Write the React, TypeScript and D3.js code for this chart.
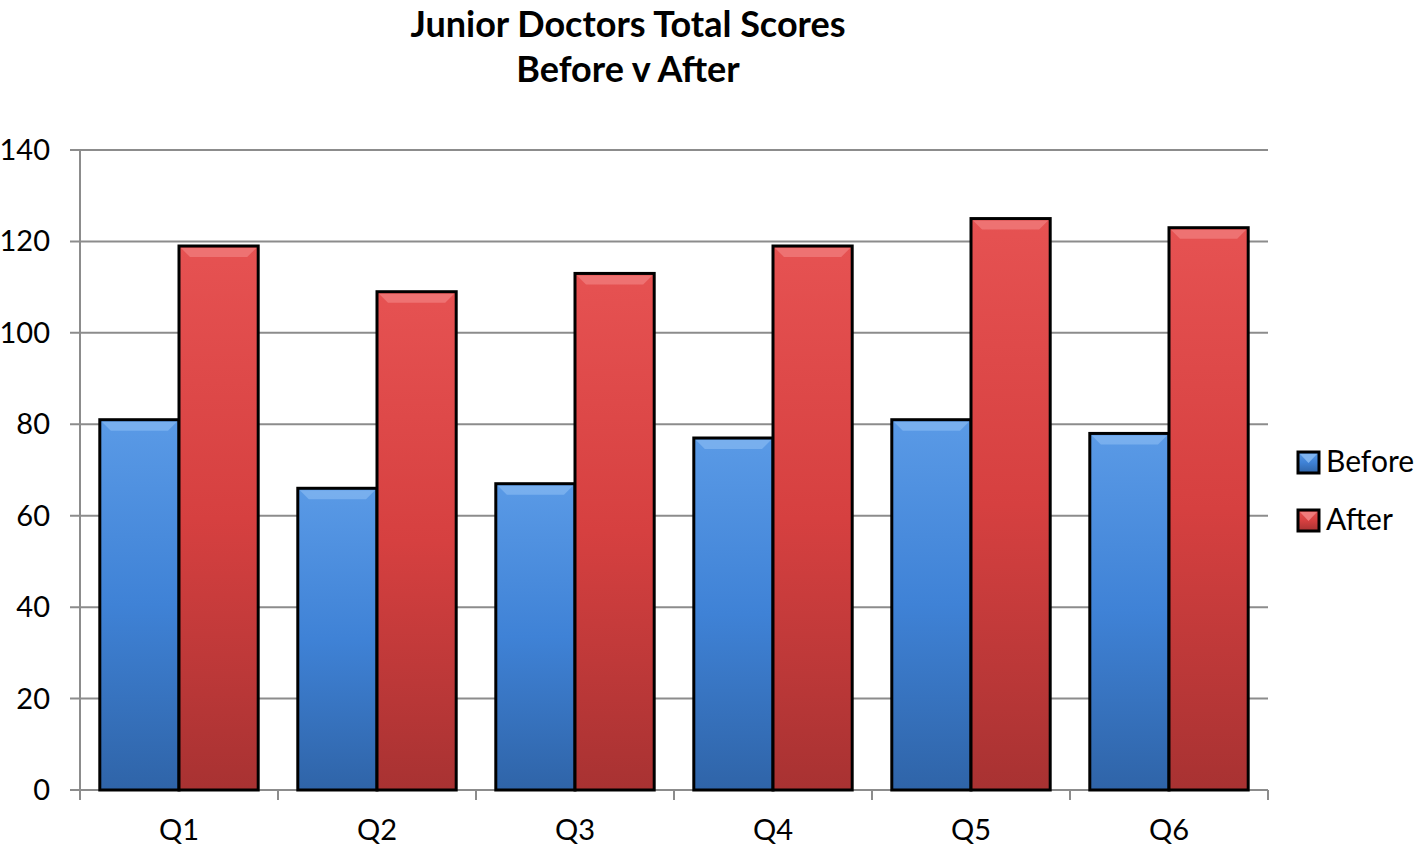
import React from "react";
import * as d3 from "d3";

const categories = ["Q1", "Q2", "Q3", "Q4", "Q5", "Q6"];
const seriesNames = ["Before", "After"];
const beforeValues = [81, 66, 67, 77, 81, 78];
const afterValues = [119, 109, 113, 119, 125, 123];
const yTicks = [0, 20, 40, 60, 80, 100, 120, 140];
const titleLines = ["Junior Doctors Total Scores", "Before v After"];

const W = 1418;
const H = 846;
const margin = { left: 80, right: 150, top: 150, bottom: 56 };
const FONT = "Lato, 'Open Sans', sans-serif";

const colors = [
  { top: "#5a9ae6", mid: "#3f82d6", bottom: "#2f64a8", bevel: "#7fb4f0", id: "gBefore" },
  { top: "#e65252", mid: "#d64040", bottom: "#a83232", bevel: "#f07b7b", id: "gAfter" },
];

export default function App() {
  const xCat = d3.scaleBand<string>().domain(categories).range([margin.left, W - margin.right]);
  const groupW = xCat.bandwidth() * 0.8;
  const x1 = d3.scaleBand<string>().domain(seriesNames).range([0, groupW]);
  const y = d3.scaleLinear().domain([0, 140]).range([H - margin.bottom, margin.top]);
  const values = [beforeValues, afterValues];
  const x0Left = margin.left;
  const x0Right = W - margin.right;

  const bars: React.ReactElement[] = [];
  categories.forEach((c, ci) => {
    values.forEach((vals, si) => {
      const cx = xCat(c)! + (xCat.bandwidth() - groupW) / 2 + x1(seriesNames[si])!;
      const bw = x1.bandwidth();
      const top = y(vals[ci]);
      const bottom = y(0);
      const b = 9;
      bars.push(
        <g key={c + si}>
          <rect x={cx} y={top} width={bw} height={bottom - top} fill={`url(#${colors[si].id})`} stroke="#000" strokeWidth={3} />
          <polygon
            points={`${cx + 2},${top + 2} ${cx + bw - 2},${top + 2} ${cx + bw - 2 - b},${top + 2 + b} ${cx + 2 + b},${top + 2 + b}`}
            fill={colors[si].bevel}
            opacity={0.8}
          />
        </g>
      );
    });
  });

  return (
    <svg width={W} height={H} style={{ position: "absolute", left: 0, top: 0, background: "#fff" }}>
      <defs>
        {colors.map((c) => (
          <linearGradient key={c.id} id={c.id} x1="0" y1="0" x2="0" y2="1">
            <stop offset="0%" stopColor={c.top} />
            <stop offset="50%" stopColor={c.mid} />
            <stop offset="100%" stopColor={c.bottom} />
          </linearGradient>
        ))}
      </defs>
      {titleLines.map((t, i) => (
        <text key={t} x={628} y={37 + i * 45} textAnchor="middle" fontFamily={FONT} fontWeight="bold" fontSize={36} fill="#000">
          {t}
        </text>
      ))}
      {yTicks.map((t) => (
        <g key={t}>
          <line x1={x0Left - 10} x2={x0Right} y1={y(t)} y2={y(t)} stroke="#8c8c8c" strokeWidth={2} />
          <text x={50} y={y(t) + 10} textAnchor="end" fontFamily={FONT} fontSize={29} fill="#000">
            {t}
          </text>
        </g>
      ))}
      <line x1={x0Left} x2={x0Left} y1={y(140)} y2={y(0) + 10} stroke="#8c8c8c" strokeWidth={2} />
      {categories.map((c) => (
        <g key={c}>
          <line x1={xCat(c)! + xCat.bandwidth()} x2={xCat(c)! + xCat.bandwidth()} y1={y(0)} y2={y(0) + 10} stroke="#8c8c8c" strokeWidth={2} />
          <text x={xCat(c)! + xCat.bandwidth() / 2} y={y(0) + 50} textAnchor="middle" fontFamily={FONT} fontSize={29} fill="#000">
            {c}
          </text>
        </g>
      ))}
      {bars}
      {seriesNames.map((s, i) => (
        <g key={s}>
          <rect x={1298} y={452 + i * 58} width={21} height={21} fill={`url(#${colors[i].id})`} stroke="#000" strokeWidth={3} />
          <polygon points={`${1300},${454 + i * 58} ${1317},${454 + i * 58} ${1308.5},${463 + i * 58}`} fill={colors[i].bevel} />
          <text x={1326} y={472 + i * 58} fontFamily={FONT} fontSize={30} fill="#000">
            {s}
          </text>
        </g>
      ))}
    </svg>
  );
}
